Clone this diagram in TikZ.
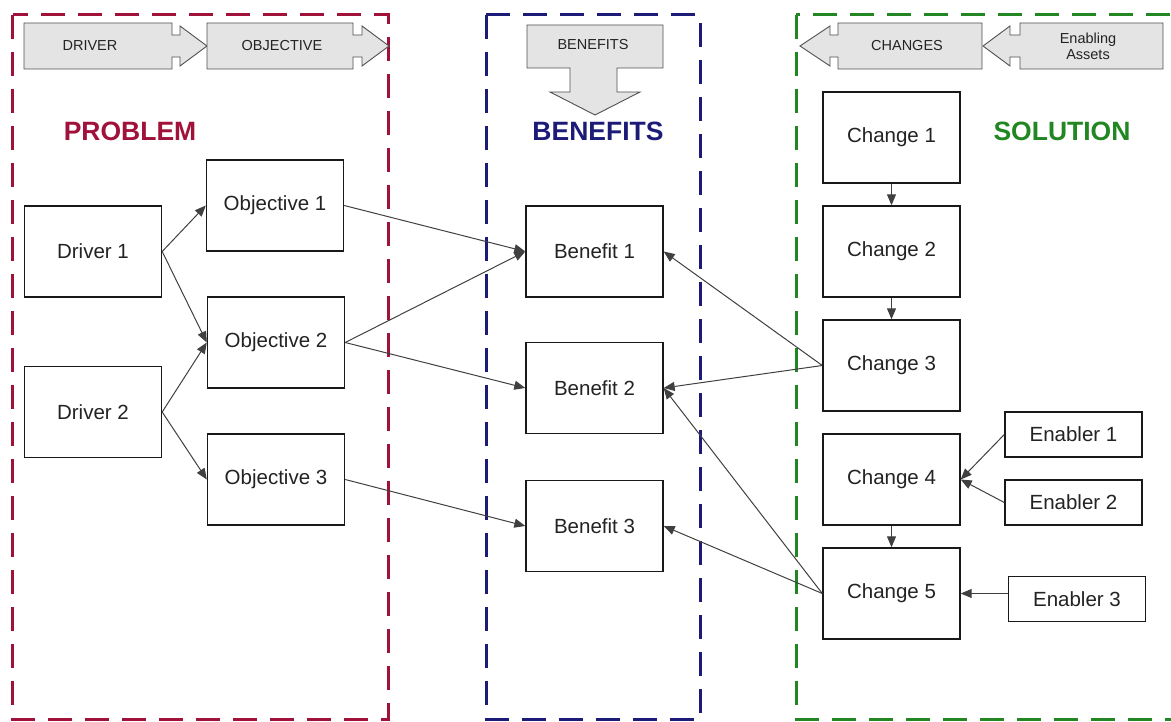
\documentclass[tikz,border=0pt]{standalone}
\usepackage{fontspec}
\setmainfont{Liberation Sans}
\usetikzlibrary{arrows.meta}
\definecolor{probred}{RGB}{160,18,58}
\definecolor{benblue}{RGB}{28,28,120}
\definecolor{solgreen}{RGB}{34,135,34}
\definecolor{hdrfill}{RGB}{228,228,228}
\definecolor{hdrline}{RGB}{80,80,80}
\definecolor{txt}{RGB}{35,35,35}
\tikzset{
  frame/.style={line width=3pt, dash pattern=on 24pt off 13pt},
  hdr/.style={fill=hdrfill, draw=hdrline, line width=0.9pt, line join=miter},
  hdrtext/.style={font=\fontsize{14.5}{19}\selectfont, text=txt, align=center},
  title/.style={font=\fontsize{26.5}{30}\selectfont\bfseries},
  box/.style={draw=black!90, line width=1.4pt, fill=white, minimum width=137pt, minimum height=91pt, inner sep=0pt, font=\fontsize{20.5}{24}\selectfont, text=txt},
  ebox/.style={box, minimum height=45pt},
  conn/.style={draw=black!75, line width=1pt, -{Triangle[length=11pt,width=9pt]}}
}
\begin{document}
\begin{tikzpicture}[x=1pt,y=-1pt]
\useasboundingbox (0,0) rectangle (1171,722);
\clip (0,0) rectangle (1171,722);
% frames
\draw[frame, probred] (12.5,15) rectangle (388.5,719.5);
\draw[frame, benblue] (486,15) rectangle (700,719.5);
\draw[frame, solgreen] (796,15) rectangle (1185,719.5);
% header arrows
\draw[hdr] (24,23) -- (172,23) -- (172,35) -- (180,35) -- (180,26) -- (207,46) -- (180,66) -- (180,57) -- (172,57) -- (172,69) -- (24,69) -- cycle;
\node[hdrtext] (hdriver) at (90,46) {DRIVER};
\draw[hdr] (207,23) -- (353,23) -- (353,35) -- (362,35) -- (362,26) -- (389,46) -- (362,66) -- (362,57) -- (353,57) -- (353,69) -- (207,69) -- cycle;
\node[hdrtext] (hobj) at (282,46) {OBJECTIVE};
\draw[hdr] (527,25) -- (663,25) -- (663,68) -- (617,68) -- (617,92) -- (640,92) -- (595,115) -- (550,92) -- (570,92) -- (570,68) -- (527,68) -- cycle;
\node[hdrtext] (hben) at (593,45) {BENEFITS};
\draw[hdr] (982,23) -- (838,23) -- (838,35) -- (830,35) -- (830,26) -- (800,46) -- (830,66) -- (830,57) -- (838,57) -- (838,69) -- (982,69) -- cycle;
\node[hdrtext] (hchg) at (907,46) {CHANGES};
\draw[hdr] (1163,23) -- (1020,23) -- (1020,35) -- (1010,35) -- (1010,26) -- (983,46) -- (1010,66) -- (1010,57) -- (1020,57) -- (1020,69) -- (1163,69) -- cycle;
\node[hdrtext] (hena) at (1088,46) {Enabling\\[-3pt]Assets};
% titles
\node[title, text=probred] (tprob) at (130,131) {PROBLEM};
\node[title, text=benblue] (tben) at (598,131) {BENEFITS};
\node[title, text=solgreen] (tsol) at (1062,131) {SOLUTION};
% problem column
\node[box] (D1) at (93,251.5) {Driver 1};
\node[box] (D2) at (93,412) {Driver 2};
\node[box] (O1) at (275,205.5) {Objective 1};
\node[box] (O2) at (276,342.5) {Objective 2};
\node[box] (O3) at (276,479.5) {Objective 3};
% benefits
\node[box] (B1) at (594.5,251.5) {Benefit 1};
\node[box] (B2) at (594.5,388) {Benefit 2};
\node[box] (B3) at (594.5,526) {Benefit 3};
% changes
\node[box] (C1) at (891.5,137.5) {Change 1};
\node[box] (C2) at (891.5,251.5) {Change 2};
\node[box] (C3) at (891.5,365.5) {Change 3};
\node[box] (C4) at (891.5,479.5) {Change 4};
\node[box] (C5) at (891.5,593.5) {Change 5};
% enablers
\node[ebox] (E1) at (1073.5,434.5) {Enabler 1};
\node[ebox] (E2) at (1073.5,502.5) {Enabler 2};
\node[ebox] (E3) at (1077,599) {Enabler 3};
% connectors
\draw[conn] (D1.east) -- (O1.west);
\draw[conn] (D1.east) -- (O2.west);
\draw[conn] (D2.east) -- (O2.west);
\draw[conn] (D2.east) -- (O3.west);
\draw[conn] (O1.east) -- (B1.west);
\draw[conn] (O2.east) -- (B1.west);
\draw[conn] (O2.east) -- (B2.west);
\draw[conn] (O3.east) -- (B3.west);
\draw[conn] (C3.west) -- (B1.east);
\draw[conn] (C3.west) -- (B2.east);
\draw[conn] (C5.west) -- (B2.east);
\draw[conn] (C5.west) -- (B3.east);
\draw[conn] (C1.south) -- (C2.north);
\draw[conn] (C2.south) -- (C3.north);
\draw[conn] (C4.south) -- (C5.north);
\draw[conn] (E1.west) -- (C4.east);
\draw[conn] (E2.west) -- (C4.east);
\draw[conn] (C5.east -| E3.west) -- (C5.east);
\end{tikzpicture}
\end{document}
